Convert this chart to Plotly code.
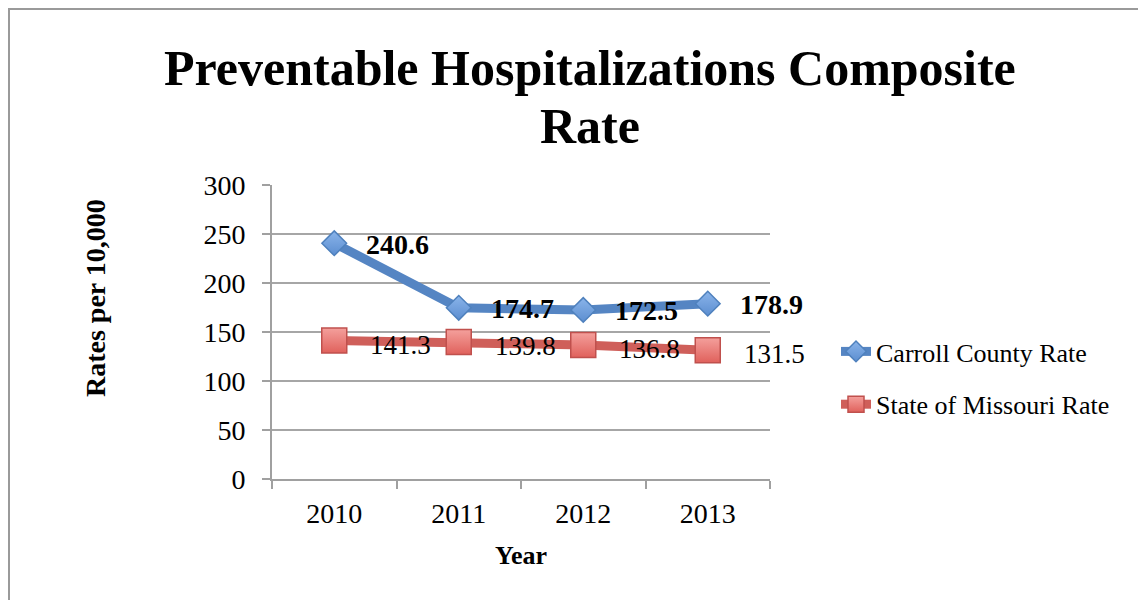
import plotly.graph_objects as go

years = ["2010", "2011", "2012", "2013"]
carroll = [240.6, 174.7, 172.5, 178.9]
missouri = [141.3, 139.8, 136.8, 131.5]
y_ticks = [0, 50, 100, 150, 200, 250, 300]
title_lines = ["Preventable Hospitalizations Composite", "Rate"]

SERIF = "Liberation Serif"
OFF = 8  # page offset of the figure (body margin)
L, R, T, B = 272 - OFF, 770 - OFF, 185 - OFF, 479 - OFF
W, H = 1146, 600


def px(v):
    return (v - OFF - L) / (R - L)


def py(v):
    return (B - (v - OFF)) / (B - T)


fig = go.Figure()
fig.add_trace(go.Scatter(
    x=years, y=carroll, name="Carroll County Rate", mode="lines+markers",
    legendgroup="a",
    line=dict(color="#5585C3", width=9),
    marker=dict(symbol="diamond", size=19, color="#8AB4EA",
                gradient=dict(type="vertical", color="#5C8ED0"),
                line=dict(color="#4F81BD", width=1.5)),
))
fig.add_trace(go.Scatter(
    x=years, y=missouri, name="State of Missouri Rate", mode="lines+markers",
    legendgroup="b",
    line=dict(color="#CF5F5A", width=9),
    marker=dict(symbol="square", size=25, color="#F4A09C",
                gradient=dict(type="vertical", color="#E0615C"),
                line=dict(color="#C0504D", width=1.5)),
))

# data labels (category axis annotations use the category index)
for i, yv in enumerate(carroll):
    fig.add_annotation(x=i, y=yv, xref="x", yref="y", text=f"<b>{yv}</b>",
                       showarrow=False, xanchor="left", yanchor="middle",
                       xshift=30, yshift=-1,
                       font=dict(family=SERIF, size=28, color="black"))
for i, yv in enumerate(missouri):
    fig.add_annotation(x=i, y=yv, xref="x", yref="y", text=f"{yv}",
                       showarrow=False, xanchor="left", yanchor="middle",
                       xshift=34, yshift=-4,
                       font=dict(family=SERIF, size=27, color="black"))

# title as two centred lines
for txt, yc in zip(title_lines, [68, 126]):
    fig.add_annotation(x=px(590), y=py(yc), xref="paper", yref="paper",
                       text=f"<b>{txt}</b>", showarrow=False,
                       xanchor="center", yanchor="middle",
                       font=dict(family=SERIF, size=50, color="black"))

# y axis title
fig.add_annotation(x=px(95), y=py(298), xref="paper", yref="paper",
                   text="<b>Rates per 10,000</b>", showarrow=False,
                   textangle=-90, xanchor="center", yanchor="middle",
                   font=dict(family=SERIF, size=28, color="black"))

# chart border (top/left visible, rest runs off the page)
fig.add_shape(type="rect", xref="paper", yref="paper",
              x0=px(OFF + 1), x1=px(1170), y0=py(620), y1=py(OFF + 1),
              line=dict(color="#9A9A9A", width=2), layer="below")

fig.update_layout(
    width=W, height=H,
    margin=dict(l=L, r=W - R, t=T, b=H - B),
    paper_bgcolor="white", plot_bgcolor="white",
    font=dict(family=SERIF, size=28, color="black"),
    showlegend=True,
    legend=dict(x=px(836), y=py(328), xanchor="left", yanchor="top",
                font=dict(family=SERIF, size=26, color="black"),
                tracegroupgap=16, bgcolor="rgba(0,0,0,0)"),
    xaxis=dict(type="category", tickson="boundaries", ticks="outside",
               ticklen=8, tickcolor="#A0A0A0", tickwidth=2,
               showline=True, linecolor="#A0A0A0", linewidth=2,
               showgrid=False, range=[-0.5, 3.5],
               tickfont=dict(family=SERIF, size=28),
               ticklabelstandoff=8,
               title=dict(text="<b>Year</b>", standoff=18,
                          font=dict(family=SERIF, size=26))),
    yaxis=dict(range=[0, 300], tickvals=y_ticks, ticks="outside",
               ticklen=8, tickcolor="#A0A0A0", tickwidth=2,
               showline=True, linecolor="#A0A0A0", linewidth=2,
               showgrid=True, gridcolor="#A6A6A6", gridwidth=2,
               zeroline=False,
               tickfont=dict(family=SERIF, size=28),
               ticklabelstandoff=11),
)

fig.write_html("out.html")
